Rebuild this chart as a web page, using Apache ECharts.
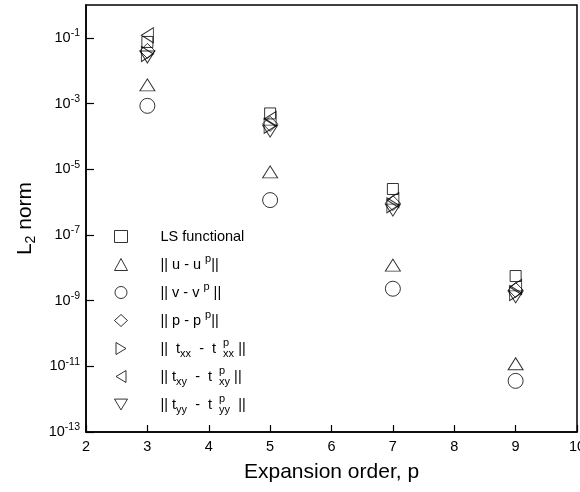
<!DOCTYPE html>
<html>
<head>
<meta charset="utf-8">
<script src="https://cdn.jsdelivr.net/npm/echarts@6/dist/echarts.min.js"></script>
<style>
  html, body { margin: 0; padding: 0; background: #fff; }
  #chart { width: 580px; height: 492px; }
</style>
</head>
<body>
<div id="chart"></div>
<script>
// Expansion orders and the L2 error norms measured at each order
const orders = [3, 5, 7, 9];
const lsFunctional = [0.075, 5.0e-4, 2.5e-6, 5.6e-9];
const errU   = [3.7e-3, 8.3e-6, 1.2e-8, 1.2e-11];
const errV   = [8.5e-4, 1.15e-6, 2.3e-9, 3.6e-12];
const errP   = [0.040, 2.4e-4, 9.3e-7, 2.1e-9];
const errTxx = [0.032, 2.1e-4, 8.0e-7, 1.7e-9];
const errTxy = [0.12, 3.4e-4, 1.15e-6, 2.6e-9];
const errTyy = [0.026, 1.45e-4, 5.7e-7, 1.3e-9];

// Labelled decades on the y axis and the x tick labels
const yTickValues = [1e-13, 1e-11, 1e-9, 1e-7, 1e-5, 1e-3, 1e-1];
const xTickValues = [2, 3, 4, 5, 6, 7, 8, 9, 10];

const FONT = 'Liberation Sans, Arial, Helvetica, sans-serif';

// every legend row carries a (blank) subscript slot so the rows share one height
const seriesDefs = [
  { name: 'ls',  values: lsFunctional, symbol: 'rect', size: 11,
    label: '{m|LS functional}{sb| }' },
  { name: 'u',   values: errU, symbol: 'triangle', size: [15, 12],
    label: '{m||| u - u }{sp|p}{m|||}{sb| }' },
  { name: 'v',   values: errV, symbol: 'circle', size: 15,
    label: '{m||| v - v }{sp|p}{m| ||}{sb| }' },
  { name: 'p',   values: errP, symbol: 'diamond', size: [15, 15],
    label: '{m||| p - p }{sp|p}{m|||}{sb| }' },
  { name: 'txx', values: errTxx, symbol: 'path://M0,0L10,6L0,12Z', size: [12, 15],
    label: '{m|||  t}{sb|xx}{m|  -  t }{sz|p}{sb|xx}{m| ||}' },
  { name: 'txy', values: errTxy, symbol: 'path://M10,0L0,6L10,12Z', size: [12, 15],
    label: '{m||| t}{sb|xy}{m|  -  t }{sz|p}{sb|xy}{m| ||}' },
  { name: 'tyy', values: errTyy, symbol: 'path://M0,0L12,0L6,10Z', size: [15, 12],
    label: '{m||| t}{sb|yy}{m|  -  t }{sz|p}{sb|yy}{m|  ||}' }
];

const legendText = {};
seriesDefs.forEach(d => { legendText[d.name] = d.label; });

const chart = echarts.init(document.getElementById('chart'), null, { renderer: 'canvas' });

chart.setOption({
  backgroundColor: '#ffffff',
  animation: false,
  textStyle: { fontFamily: FONT, color: '#000' },
  grid: {
    left: 86, right: 3, top: 5, bottom: 60,
    outerBoundsMode: 'none',
    containLabel: false,
    show: true, borderColor: '#000', borderWidth: 1.5, backgroundColor: 'transparent'
  },
  legend: {
    orient: 'vertical',
    left: 114,
    top: 229,
    padding: 0,
    itemWidth: 13,
    itemHeight: 12,
    itemGap: 6,
    selectedMode: false,
    itemStyle: { borderWidth: 1, borderColor: '#000', color: 'rgba(255,255,255,0)' },
    formatter: name => legendText[name],
    textStyle: {
      fontFamily: FONT,
      padding: [0, 0, 0, 28],
      rich: {
        m:  { fontSize: 14.5, lineHeight: 22, fontFamily: FONT, color: '#000' },
        sp: { fontSize: 11, lineHeight: 12, verticalAlign: 'top', fontFamily: FONT, color: '#000' },
        sb: { fontSize: 11, lineHeight: 12, verticalAlign: 'bottom', fontFamily: FONT, color: '#000' },
        sz: { fontSize: 11, lineHeight: 12, width: 0, verticalAlign: 'top', fontFamily: FONT, color: '#000', padding: [0, 0, 0, 3] }
      }
    },
    data: seriesDefs.map(d => d.name)
  },
  xAxis: {
    type: 'value',
    min: 2,
    max: 10,
    interval: 1,
    name: 'Expansion order, p',
    nameLocation: 'middle',
    nameGap: 30,
    nameTextStyle: { fontSize: 21, fontFamily: FONT, color: '#000' },
    axisLine: { show: true, lineStyle: { color: '#000', width: 1.5 } },
    axisTick: { show: true, inside: true, length: 7, lineStyle: { color: '#000', width: 1.2 } },
    axisLabel: {
      margin: 7, fontSize: 14.5, fontFamily: FONT, color: '#000',
      customValues: xTickValues
    },
    splitLine: { show: false }
  },
  yAxis: {
    type: 'log',
    logBase: 10,
    min: 1e-13,
    max: 1,
    name: '{m|L}{s|2}{m| norm}',
    nameLocation: 'middle',
    nameGap: 45,
    nameRotate: 90,
    nameTextStyle: {
      fontFamily: FONT, color: '#000',
      rich: {
        m: { fontSize: 21, lineHeight: 26, fontFamily: FONT, color: '#000' },
        s: { fontSize: 14, lineHeight: 14, verticalAlign: 'bottom', fontFamily: FONT, color: '#000' }
      }
    },
    axisLine: { show: true, lineStyle: { color: '#000', width: 1.5 } },
    axisTick: {
      show: true, inside: true, length: 8,
      lineStyle: { color: '#000', width: 1.2 },
      customValues: yTickValues
    },
    axisLabel: {
      margin: 6,
      customValues: yTickValues,
      formatter: v => '{b|10}{e|' + Math.round(Math.log10(v)) + '}',
      rich: {
        b: { fontSize: 14.5, lineHeight: 20, fontFamily: FONT, color: '#000' },
        e: { fontSize: 10.5, lineHeight: 12, verticalAlign: 'top', fontFamily: FONT, color: '#000' }
      }
    },
    splitLine: { show: false },
    minorTick: { show: false }
  },
  series: seriesDefs.map(d => ({
    name: d.name,
    type: 'scatter',
    symbol: d.symbol,
    symbolSize: d.size,
    itemStyle: { color: 'rgba(255,255,255,0)', borderColor: '#000', borderWidth: 1 },
    emphasis: { disabled: true },
    data: orders.map((x, i) => [x, d.values[i]])
  }))
});
</script>
</body>
</html>
